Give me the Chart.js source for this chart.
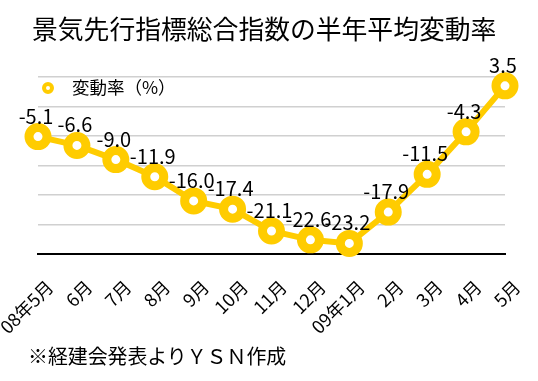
<!DOCTYPE html>
<html>
<head>
<meta charset="utf-8">
<script src="https://cdn.jsdelivr.net/npm/chart.js@4"></script>
<style>
  body { margin: 0; background: #fff; font-family: "Noto Sans CJK JP", sans-serif; color: #000; }
  #wrap { position: relative; width: 538px; height: 381px; overflow: hidden; }
  #wrap canvas { position: absolute; left: 0; top: 0; }
  .title { position: absolute; left: 32px; top: 10px; font-size: 25.8px; line-height: 36px; white-space: nowrap; }
  .legend { position: absolute; left: 42px; top: 76px; font-size: 17.5px; line-height: 22px; white-space: nowrap; }
  .legend i { display: inline-block; width: 4px; height: 4px; border: 4px solid #FFCC00; border-radius: 50%; vertical-align: 0px; margin-right: 18px; }
  .note { position: absolute; left: 28px; top: 343px; font-size: 19.9px; line-height: 26px; white-space: nowrap; }
</style>
</head>
<body>
<div id="wrap">
  <canvas id="chart" width="538" height="381"></canvas>
  <div class="title">景気先行指標総合指数の半年平均変動率</div>
  <div class="legend"><i></i>変動率（%）</div>
  <div class="note">※経建会発表よりＹＳＮ作成</div>
</div>
<script>
// 月ラベル
const months = ['08年5月', '6月', '7月', '8月', '9月', '10月', '11月', '12月', '09年1月', '2月', '3月', '4月', '5月'];
// 変動率（%）
const rates = [-5.1, -6.6, -9.0, -11.9, -16.0, -17.4, -21.1, -22.6, -23.2, -17.9, -11.5, -4.3, 3.5];
// 縦軸の範囲
const yMin = -25, yMax = 5, yStep = 5;

const YELLOW = '#FFCC00';

// 各点の上に値を描く
const valueLabels = {
  id: 'valueLabels',
  afterDatasetsDraw(chart) {
    const ctx = chart.ctx;
    const meta = chart.getDatasetMeta(0);
    ctx.save();
    ctx.font = '20px "Noto Sans CJK JP", sans-serif';
    ctx.fillStyle = '#000';
    ctx.textAlign = 'center';
    ctx.textBaseline = 'alphabetic';
    meta.data.forEach((pt, i) => {
      ctx.fillText(rates[i].toFixed(1), pt.x - 2, pt.y - 13);
    });
    ctx.restore();
  }
};

new Chart(document.getElementById('chart'), {
  type: 'line',
  data: {
    labels: months,
    datasets: [{
      label: '変動率（%）',
      data: rates,
      borderColor: YELLOW,
      borderWidth: 6,
      pointRadius: 9,
      pointBorderWidth: 9,
      pointBackgroundColor: '#fff',
      pointBorderColor: YELLOW,
      tension: 0,
      clip: false,
    }]
  },
  options: {
    responsive: false,
    animation: false,
    layout: { padding: { left: 38, right: 33, top: 77, bottom: 0 } },
    plugins: {
      legend: { display: false },
      tooltip: { enabled: false },
    },
    scales: {
      x: {
        offset: false,
        grid: { display: false },
        border: { color: '#000', width: 2 },
        ticks: {
          color: '#000',
          font: { family: '"Noto Sans CJK JP", sans-serif', size: 18 },
          minRotation: 45,
          maxRotation: 45,
          autoSkip: false,
          labelOffset: 12,
          padding: 14,
        },
        afterFit(scale) {
          scale.height = 127;
          scale.paddingLeft = 0;
          scale.paddingRight = 0;
        },
      },
      y: {
        min: yMin,
        max: yMax,
        grid: { color: '#d0d0d0', lineWidth: 1.5, drawTicks: false },
        border: { display: false },
        ticks: { display: false, stepSize: yStep },
        afterFit(scale) { scale.width = 0; },
      }
    }
  },
  plugins: [valueLabels]
});
</script>
</body>
</html>
